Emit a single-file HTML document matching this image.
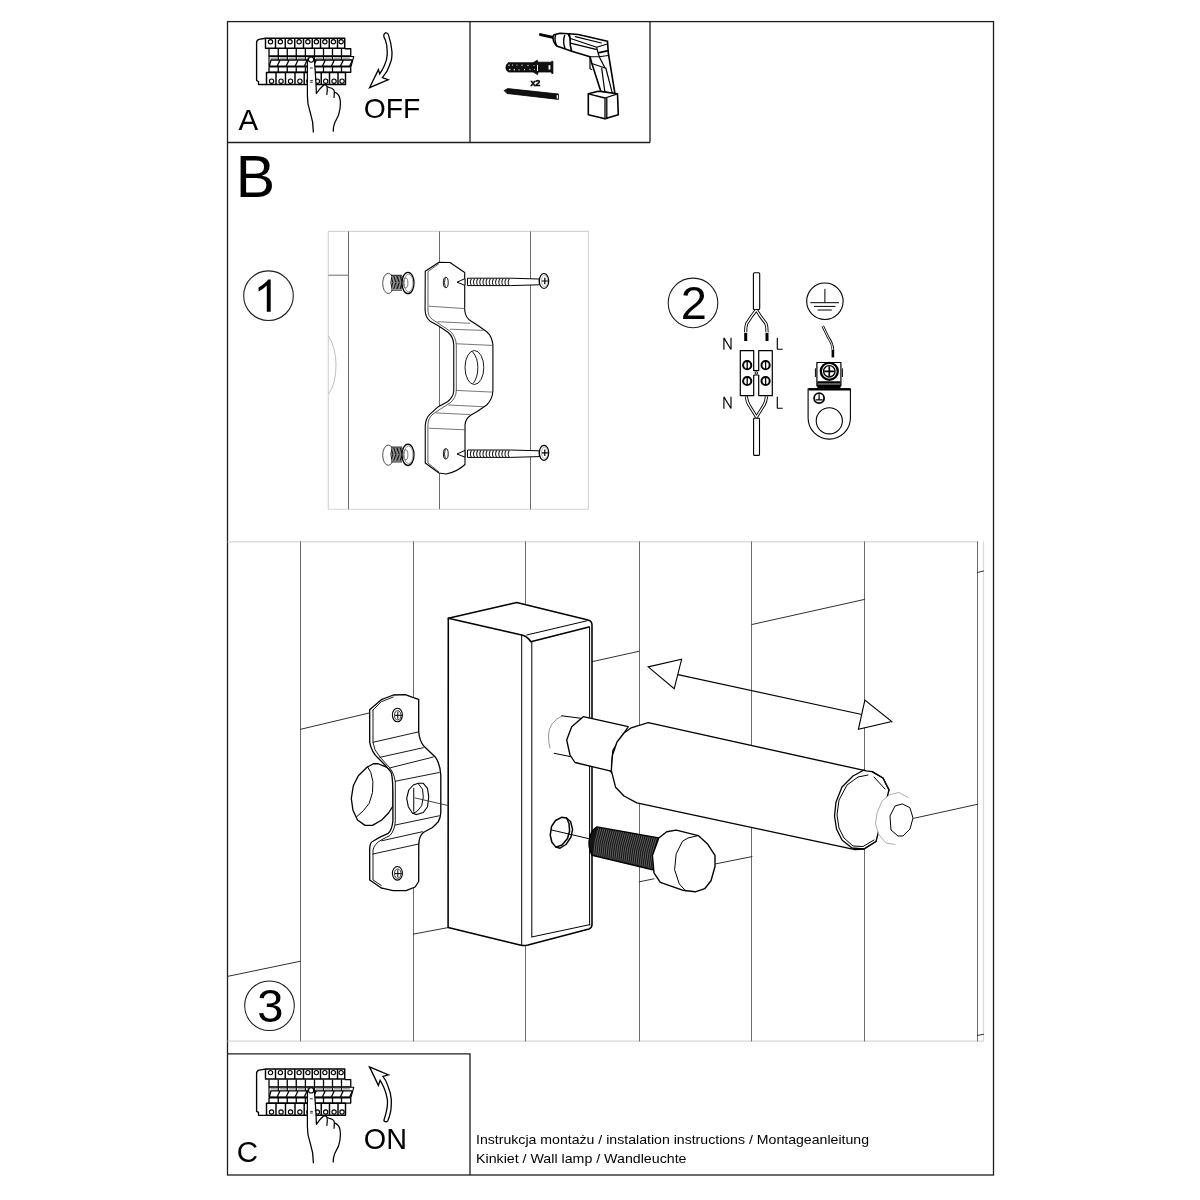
<!DOCTYPE html>
<html><head><meta charset="utf-8">
<style>
html,body{margin:0;padding:0;background:#fff;width:1200px;height:1200px;overflow:hidden}
svg{position:absolute;left:0;top:0;display:block;will-change:transform}
text{font-family:"Liberation Sans",sans-serif;fill:#000}
</style></head>
<body>
<svg width="1200" height="1200" viewBox="0 0 1200 1200">
<!-- FRAME -->
<g fill="none" stroke="#1e1e1e" stroke-width="1.3">
<rect x="227.5" y="21.6" width="766" height="1153.4"/>
<path d="M227.5 142.5H650M470 21.6V142.5M650 21.6V142.5M227.5 1053.8H470V1175"/>
</g>
<!-- PANELS -->
<g id="panel" stroke="#000" fill="none" stroke-linejoin="round">
<path fill="#fff" stroke-width="1.35" d="M265.5 38.25L259 39.3Q256.6 40 256.6 42.5V80.5L258.5 81.6V84.5H266.5"/>
<path fill="#fff" stroke-width="1.45" d="M265.5 48.25V38.25H344.75V48.25H265.5ZM275.5 38.25V48.25M285.25 38.25V48.25M294.75 38.25V48.25M303.5 38.25V48.25M312.25 38.25V48.25M320.5 38.25V48.25M329.25 38.25V48.25M337.5 38.25V48.25"/>
<g stroke-width="1.15"><circle cx="270.50" cy="41.8" r="2.15"/><circle cx="280.38" cy="41.8" r="2.15"/><circle cx="290.00" cy="41.8" r="2.15"/><circle cx="299.12" cy="41.8" r="2.15"/><circle cx="307.88" cy="41.8" r="2.15"/><circle cx="316.38" cy="41.8" r="2.15"/><circle cx="324.88" cy="41.8" r="2.15"/><circle cx="333.38" cy="41.8" r="2.15"/><circle cx="341.12" cy="41.8" r="2.15"/></g>
<path stroke-width="1.3" d="M269 48.75V56H350.75V48.75H344.75M278.25 48.75V56M287.25 48.75V56M296.25 48.75V56M305.4 48.75V56M314.5 48.75V56M323.5 48.75V56M332.5 48.75V56M341.5 48.75V56"/>
<path fill="#fff" stroke-width="1.1" d="M269 56.5H353.75L351 66.5H269Z"/>
<path stroke="#888" stroke-width="1.3" d="M270.40 58.1H277.25M279.65 58.1H286.25M288.65 58.1H295.25M297.65 58.1H304.40M306.80 58.1H313.50M315.90 58.1H322.50M324.90 58.1H331.50M333.90 58.1H340.50M342.90 58.1H349.75M352.15 58.1H352.00"/>
<path stroke-width="1.3" d="M269.3 66L271 60H352.5M277.25 66L280.05 60M286.25 66L289.05 60M295.25 66L298.05 60M304.4 66L307.2 60M313.5 66L316.3 60M322.5 66L325.3 60M331.5 66L334.3 60M340.5 66L343.3 60M349.75 66L352.55 60M271 60H352.5M278.25 56.5V60M287.25 56.5V60M296.25 56.5V60M305.4 56.5V60M314.5 56.5V60M323.5 56.5V60M332.5 56.5V60M341.5 56.5V60"/>
<path stroke-width="2" d="M269 66.6H351"/>
<path stroke-width="1.3" d="M269 67.2V72.25H350.75V67.2M278.25 67.2V72.25M287.25 67.2V72.25M296.25 67.2V72.25M305.4 67.2V72.25M314.5 67.2V72.25M323.5 67.2V72.25M332.5 67.2V72.25M341.5 67.2V72.25"/>
<path fill="#fff" stroke-width="1.45" d="M266.5 72.5H345.5V84.5H266.5ZM276 72.5V84.5M285.5 72.5V84.5M295 72.5V84.5M304.2 72.5V84.5M313 72.5V84.5M321.25 72.5V84.5M329.5 72.5V84.5M338 72.5V84.5"/>
<g stroke-width="1.15"><circle cx="271.55" cy="81.2" r="2.15"/><circle cx="281.05" cy="81.2" r="2.15"/><circle cx="290.55" cy="81.2" r="2.15"/><circle cx="299.90" cy="81.2" r="2.15"/><circle cx="308.90" cy="81.2" r="2.15"/><circle cx="317.43" cy="81.2" r="2.15"/><circle cx="325.68" cy="81.2" r="2.15"/><circle cx="334.05" cy="81.2" r="2.15"/><circle cx="342.05" cy="81.2" r="2.15"/></g>
<path fill="#fff" stroke-width="1.25" d="M313.4 132.5Q313.5 122 310 111.5Q307.3 104 307.4 96V62Q307.8 57.5 311.1 57Q314.3 57.5 314.5 62L315.3 72.5L316 83.75L316.4 93.5L319.75 89L323.5 85.25Q325.8 84.3 327 86.5Q328.5 87.5 331.75 88.25Q334.4 89.5 334.4 92Q337 93 338.5 95Q340.3 97.5 340.4 103.5Q340.5 109 338.5 115.3L334.75 122.75Q333 127 333.25 131.75"/>
<path stroke-width="1.2" d="M327 86.5Q327.8 90 326.8 95M334.4 92L334 98"/>
<circle cx="311.1" cy="59.6" r="2.6" fill="#fff" stroke-width="1.1"/>
<path stroke-width="0.8" d="M309.8 68H312.8M310.2 80.6H312.8M310.2 82.2H312.8"/>
</g>

<use href="#panel" transform="translate(0 1030.8)"/>
<g id="drill" stroke="#000" fill="none" stroke-linejoin="round" stroke-linecap="round">
<!-- anchor -->
<path fill="#111" stroke-width="0.8" d="M508.8 62.75H533.1L537.2 60.2L538 62.2H551.7V61.2L552.9 61.4V73.6L551.7 73.4V72H538L537.7 74.6L533.1 72H508.8Q505.6 70.5 505.9 67.4Q505.9 64 508.8 62.75Z"/>
<g fill="#fff" stroke="none">
<rect x="548.5" y="65.2" width="1.9" height="4.3"/>
<rect x="537" y="64.8" width="1" height="6.2"/>
<circle cx="509" cy="65.3" r="0.7"/><circle cx="509.8" cy="69.6" r="0.8"/>
<circle cx="512.5" cy="65" r="0.6"/><circle cx="514.3" cy="69.8" r="0.7"/>
<circle cx="517" cy="65" r="0.6"/><circle cx="519" cy="69.8" r="0.6"/>
<circle cx="522" cy="65.2" r="0.6"/><circle cx="524.5" cy="69.7" r="0.6"/>
<circle cx="528" cy="65.4" r="0.6"/><circle cx="530" cy="69.6" r="0.6"/>
<circle cx="534" cy="65.6" r="0.5"/><circle cx="534.3" cy="69.6" r="0.5"/>
</g>
<!-- screw -->
<path fill="#111" stroke-width="0.8" d="M504.4 90.4L507.75 88.6L558.4 94V99.4L507.2 93.5Z"/>
<path fill="#fff" stroke="none" d="M556.7 95L558 95.2V98.8L556.7 98.6Z"/>
<!-- drill bit -->
<path stroke-width="3" d="M540.5 34.6L553 37.4"/>
<!-- chuck -->
<path fill="#fff" stroke-width="1.6" d="M554.2 34.7L560 33.2L568.3 33.8Q571.5 40 571.7 51.3L562.5 48L556.7 45.9Q553.5 43 552.9 38Q553 35.8 554.2 34.7Z"/>
<path stroke-width="1.4" d="M555.5 35.6Q554 40 556.7 45.6M564.6 35.5Q562.5 42 565 48.4"/>
<!-- body -->
<path fill="#fff" stroke-width="1.6" d="M568.3 33.8L578.3 34.5L607.5 41.3L608.3 53L615 93.8L600.8 91.3L591.7 63L590 56.75L571.7 51.3Q569.5 45 570.2 38Q570 35 568.3 33.8Z"/>
<path stroke-width="1.2" d="M575.3 36.7L601.3 43M571.3 38.7L596.7 47.3L607.3 44M571.3 43.3L596 49.3M596.7 47.3L598 52.7L599.3 56.75M598 52.7L607.3 50.7M599.2 56.75L590 56.75M599.2 53L608.3 50.9M599.2 56.75L608.3 55.5M592.5 63.8L605 68M599.2 56.75L605 68M601.7 68.4L605 93M605.8 68L612.5 93.8M590 56.75V68.8L591.7 69.5"/>
<!-- battery -->
<path fill="#fff" stroke-width="1.6" d="M588.3 93.8L598.3 91.3L617.5 93.8L618.3 114.7L605 118.8L588.3 114.7Z"/>
<path stroke-width="1.3" d="M588.3 93.8L605 98L617.5 93.8M605 98V118.8M606.8 97.6V118.4"/>
</g>
<g stroke="#000" stroke-width="1.3" fill="#fff" stroke-linejoin="miter">
<path d="M384 34.4Q385.5 32.5 386.1 32.8Q388 33 388.3 34.4Q391 42 392 52Q392 60 390.4 62.7Q389 67 386.7 71.7L382.4 77.6L388.3 79.7L369.6 87.7L378.4 69.6L379.7 73.9Q383 69 384.5 65.3Q387 60 387.2 54.7Q387.3 50 386.7 45.1Q385.8 40 384 37.1Q383.6 35.5 384 34.4Z"/>
<path d="M369.5 1066.9L388.5 1074.8L382.9 1076.4Q386 1080 387.9 1085.9Q391 1093 391.3 1099.9Q391.5 1106 390.7 1111.1Q389.5 1117 387.9 1120.6Q387 1122 386.3 1121.7Q383.6 1121.5 384 1120Q386 1114 386.8 1109.4Q387.8 1104 387.4 1099.9Q386.5 1094 384.6 1089.3Q382.5 1084 380.1 1080.3L378.4 1085.4Z"/>
</g>
<text x="530.6" y="85.9" font-size="9.2" font-weight="bold" letter-spacing="-0.4" stroke="#000" stroke-width="0.45">x2</text>
<!-- SECTION 1 -->
<g fill="none">
<path stroke="#d4d4d4" stroke-width="1.1" d="M328.3 231.4H588.4V509.3H328.3Z"/>
<path stroke="#6a6a6a" stroke-width="1" d="M348.5 231.4V509.3M439.5 231.4V509.3M530.5 231.4V509.3M328.3 275.2H348.5"/>
<path stroke="#b8b8b8" stroke-width="0.9" d="M328.5 336Q336 348 336 365Q336 384 328.5 394"/>
</g>
<g stroke="#000" fill="#fff" stroke-linejoin="round">
<path stroke-width="1.1" d="M425.25 271.25L439 262.3L450 262.5L464.7 272.5V310.2Q465.5 318 471.3 321.25L478.3 325.8L486.7 331.7Q492 336 492.9 345V390.8Q492.6 399 486.7 405L476.7 411.7L471 415Q465.3 419 465 425V464.5Q457 472 446 474L439 473L425.25 463V425.3Q426 418 430 414.2L438.3 406.7L447.5 401.7Q453.5 397 453.75 390.8V345Q453.5 337 448.3 332.5L438.3 325.8L430.2 321.25Q425.3 317 425.1 310.2Z"/>
<path fill="none" stroke-width="0.8" stroke="#333" d="M439 263.6L428 271.5V310.2Q427.8 316 432.5 319.5L441 325L450.5 331.5Q456 337 456.3 345V390.8Q456 398 450 403L440.5 409L433 414Q428 418 427.9 425.3V463L439 472"/>
<path fill="none" stroke-width="0.8" stroke="#555" d="M428.6 306.2L465 308.6M437.5 321.7L470 323.3M450 329.2L483.3 330.4M455.8 343.75L492.5 345.4M455.8 390.4L492.5 392.1M448.3 405L483.3 406.7M435.8 412.9L470 414.6M428.6 428.2L465 429.8"/>
<ellipse cx="474.4" cy="367.5" rx="9.4" ry="17" stroke-width="0.9"/>
<path fill="none" stroke-width="0.9" d="M472.5 351.7Q478 358 477.8 367.5Q478 377 473.3 383.3"/>
<ellipse cx="445.8" cy="282.5" rx="2.4" ry="5.2" stroke-width="1" stroke="#111"/><path fill="none" stroke="#111" stroke-width="0.9" d="M445.3 277.7Q443.6 282.5 445.3 287.3"/>
<ellipse cx="445.8" cy="453.8" rx="2.4" ry="5.2" stroke-width="1" stroke="#111"/><path fill="none" stroke="#111" stroke-width="0.9" d="M445.3 449.0Q443.6 453.8 445.3 458.6"/>
</g>
<g stroke="#000" fill="#fff">
<path stroke-width="1" d="M457 282.2L465 278.6V285.4Z"/>
<path stroke-width="1" d="M467.5 278.2H510.5L539.3 279.0V284.8L510.5 285.6H467.5Z"/>
<path fill="none" stroke-width="1.05" stroke="#222" d="M471.5 278.6Q469.2 282.2 471.5 285.5M474.6 278.6Q472.3 282.2 474.6 285.5M477.8 278.6Q475.5 282.2 477.8 285.5M480.9 278.6Q478.6 282.2 480.9 285.5M484.1 278.6Q481.8 282.2 484.1 285.5M487.2 278.6Q484.9 282.2 487.2 285.5M490.4 278.6Q488.1 282.2 490.4 285.5M493.6 278.6Q491.2 282.2 493.6 285.5M496.7 278.6Q494.4 282.2 496.7 285.5M499.9 278.6Q497.6 282.2 499.9 285.5M503.0 278.6Q500.7 282.2 503.0 285.5M506.1 278.6Q503.8 282.2 506.1 285.5M509.3 278.6Q507.0 282.2 509.3 285.5"/>
<ellipse cx="544" cy="281.0" rx="4.7" ry="7.5" stroke-width="1.2"/>
<ellipse cx="544.6" cy="281.0" rx="3.1" ry="5.7" stroke-width="0.6" stroke="#888"/>
<path fill="none" stroke-width="1.2" d="M544.8 277.8V284.2M541.8 281.0H547.8"/>
</g>
<g stroke="#000" fill="#fff">
<ellipse cx="388.3" cy="283.4" rx="5.6" ry="10.1" stroke="#444" stroke-width="0.95"/>
<path stroke="none" fill="#fff" d="M390.5 276.0H403V290.0H390.5Z"/>
<path fill="none" stroke="#000" stroke-width="0.95" d="M391 275.3H402M391 290.1H402M392.0 275.9Q389.8 282.5 392.0 289.1M393.4 275.9Q391.2 282.5 393.4 289.1M394.9 275.9Q392.7 282.5 394.9 289.1M396.4 275.9Q394.2 282.5 396.4 289.1M397.8 275.9Q395.6 282.5 397.8 289.1M399.2 275.9Q397.1 282.5 399.2 289.1M400.7 275.9Q398.5 282.5 400.7 289.1M402.1 275.9Q399.9 282.5 402.1 289.1"/>
<ellipse cx="408" cy="283.0" rx="6" ry="10.7" stroke-width="1.3"/>
<ellipse cx="408.6" cy="283.0" rx="4.4" ry="8.8" stroke-width="0.7" stroke="#666"/>
<ellipse cx="405.6" cy="283.0" rx="2.3" ry="5" stroke-width="0.8" stroke="#555" fill="none"/>
</g><g stroke="#000" fill="#fff">
<path stroke-width="1" d="M457 454.0L465 450.4V457.2Z"/>
<path stroke-width="1" d="M467.5 450.0H510.5L539.3 450.8V456.6L510.5 457.4H467.5Z"/>
<path fill="none" stroke-width="1.05" stroke="#222" d="M471.5 450.4Q469.2 454.0 471.5 457.3M474.6 450.4Q472.3 454.0 474.6 457.3M477.8 450.4Q475.5 454.0 477.8 457.3M480.9 450.4Q478.6 454.0 480.9 457.3M484.1 450.4Q481.8 454.0 484.1 457.3M487.2 450.4Q484.9 454.0 487.2 457.3M490.4 450.4Q488.1 454.0 490.4 457.3M493.6 450.4Q491.2 454.0 493.6 457.3M496.7 450.4Q494.4 454.0 496.7 457.3M499.9 450.4Q497.6 454.0 499.9 457.3M503.0 450.4Q500.7 454.0 503.0 457.3M506.1 450.4Q503.8 454.0 506.1 457.3M509.3 450.4Q507.0 454.0 509.3 457.3"/>
<ellipse cx="544" cy="452.8" rx="4.7" ry="7.5" stroke-width="1.2"/>
<ellipse cx="544.6" cy="452.8" rx="3.1" ry="5.7" stroke-width="0.6" stroke="#888"/>
<path fill="none" stroke-width="1.2" d="M544.8 449.6V456.0M541.8 452.8H547.8"/>
</g>
<g stroke="#000" fill="#fff">
<ellipse cx="388.3" cy="455.2" rx="5.6" ry="10.1" stroke="#444" stroke-width="0.95"/>
<path stroke="none" fill="#fff" d="M390.5 447.8H403V461.8H390.5Z"/>
<path fill="none" stroke="#000" stroke-width="0.95" d="M391 447.1H402M391 461.9H402M392.0 447.7Q389.8 454.3 392.0 460.9M393.4 447.7Q391.2 454.3 393.4 460.9M394.9 447.7Q392.7 454.3 394.9 460.9M396.4 447.7Q394.2 454.3 396.4 460.9M397.8 447.7Q395.6 454.3 397.8 460.9M399.2 447.7Q397.1 454.3 399.2 460.9M400.7 447.7Q398.5 454.3 400.7 460.9M402.1 447.7Q399.9 454.3 402.1 460.9"/>
<ellipse cx="408" cy="454.8" rx="6" ry="10.7" stroke-width="1.3"/>
<ellipse cx="408.6" cy="454.8" rx="4.4" ry="8.8" stroke-width="0.7" stroke="#666"/>
<ellipse cx="405.6" cy="454.8" rx="2.3" ry="5" stroke-width="0.8" stroke="#555" fill="none"/>
</g>
<!-- SECTION 2 -->
<g stroke="#000" fill="none" stroke-linejoin="round">
<rect x="753.4" y="272.7" width="6.3" height="36.8" rx="1" stroke-width="1.1"/>
<rect x="753.6" y="418.1" width="5.9" height="37.3" rx="1" stroke-width="1.1"/>
<path stroke-width="3.2" d="M756.3 310L752 315.7L746.7 323.7Q745.5 327 745.7 332.3M756.5 310L760 315.7L766 323.7Q767.2 327 767 332.3M746.3 396.3Q747 402 749 405L756.5 417M766.5 396.3Q766 402 764 405L756.5 417"/>
<path stroke-width="1.4" stroke="#fff" d="M756.3 310L752 315.7L746.7 323.7Q745.5 327 745.7 332.3M756.5 310L760 315.7L766 323.7Q767.2 327 767 332.3M746.3 396.3Q747 402 749 405L756.5 417M766.5 396.3Q766 402 764 405L756.5 417"/>
<path stroke-width="3" d="M745.7 333V341M767 333V341"/>
<rect x="740.3" y="350.7" width="13.4" height="45" stroke-width="1.2"/>
<rect x="758.7" y="350.7" width="13.6" height="45" stroke-width="1.2"/>
<g stroke-width="2"><circle cx="747.2" cy="365.2" r="4.1"/><circle cx="765.6" cy="365.2" r="4.1"/><circle cx="747.2" cy="381" r="4.1"/><circle cx="765.6" cy="381" r="4.1"/></g>
<path stroke-width="1.3" d="M747.2 361.6V368.8M765.6 361.6V368.8M747.2 377.4V384.6M765.6 377.4V384.6"/>
<path stroke="#fff" stroke-width="2" d="M753.5 371V375.2M759 371V375.2"/>
<path stroke-width="1.1" d="M753.6 370.4L754.5 370.6H758L758.8 370.4M753.6 375.8Q754 375 755 375H758Q758.8 375 758.8 375.8"/>
<circle cx="756.4" cy="373" r="1.2" stroke-width="0.9"/>
<circle cx="824.9" cy="301.25" r="18.2" stroke-width="1.1"/>
<path stroke-width="1" d="M824.9 288.9V302.7M810.3 302.7H839M814 306.4H835.5M817.6 310H831.8"/>
<path stroke-width="2.6" d="M822.7 326L828 337Q832.9 344 832.9 350"/>
<path stroke-width="1" stroke="#fff" d="M822.7 326L828 337Q832.9 344 832.9 350"/>
<path stroke-width="2.6" d="M832.9 350V357.4"/>
<path stroke-width="1.1" fill="#fff" d="M808.1 388.75H850.4V418A21.1 21.1 0 0 1 808.1 418Z"/>
<path stroke-width="2.2" d="M808.5 389.4H850"/>
<circle cx="829.3" cy="420.8" r="13.1" stroke-width="1.1"/>
<circle cx="819.1" cy="398.2" r="5" stroke-width="1.8"/>
<path stroke-width="1.2" d="M819.1 394.3V399.6M815.6 399.9H822.6"/>
<rect x="816.9" y="362.5" width="24" height="23.3" stroke-width="1.2" fill="#fff"/>
<path stroke-width="1" d="M815.4 368.3V377M842.4 368.3V377"/>
<rect x="817.6" y="381.5" width="22.6" height="6.5" fill="#000" stroke-width="0.5"/>
<path stroke="#fff" stroke-width="0.7" d="M818 384H840"/>
<circle cx="829.3" cy="371.3" r="8.5" stroke-width="2.3" fill="#fff"/>
<circle cx="829.3" cy="371.3" r="5.7" stroke-width="1.4"/>
<path stroke-width="1.7" d="M829.3 366.3V376.3M824.3 371.3H834.3"/>
</g>
<g fill="#000" stroke="#000" stroke-width="1.2" stroke-linejoin="miter" stroke-linecap="butt">
<path fill="none" stroke-linejoin="bevel" stroke-width="1.15" d="M723.9 349.7V337.9L731 349.5V337.7M777.3 337.7V349.2H782.7M723.9 408.7V396.9L731 408.5V396.7M777.3 396.7V408.2H782.7"/>
</g>
<!-- SECTION 3 -->
<g fill="none" stroke-linejoin="round" stroke-linecap="round">
<!-- wall -->
<path stroke="#d8d8d8" stroke-width="1.2" d="M228 541.8H978M228 1041.2H983M983.5 541.8V1041"/>
<g stroke="#6a6a6a" stroke-width="1">
<path d="M300.5 541.8V1041M413.5 541.8V1041M525.5 541.8V1041M639.5 541.8V1041M751.5 541.8V1041M864.5 541.8V1041M977.5 541.8V1041"/>
</g>
<g stroke="#303030" stroke-width="1">
<path d="M228 976.3L300.6 961.2M300.6 729.3L370 712.8M413.4 934.1L448.1 927.6M592 661.7L639.3 651.2M752 624.5L864.6 599.4M639.3 881.8L654 878.8M716 863.8L752 856.6M913.8 818.3L977.5 804.3M977.5 572.5L983.5 571M977.5 1035.4L983.5 1034.3"/>
</g>
<!-- box -->

<g stroke="#000" stroke-width="1.55" fill="#fff">
<path d="M448.3 618.3L516.7 602.5L588 620Q592 621 592 625V924.6Q592 928 589 929L528 945Q523.5 946 521 945.2L448.1 927.6Z"/>
<path fill="none" d="M448.3 618.3L521.7 635Q527 636 530.8 641.7L589 627"/>
<path fill="none" stroke-width="1" d="M521.7 635V945M531.8 641.7V937M589.6 627V925M526.7 635L587 620.8M532.2 936.9L590 924.6"/>
</g>
<!-- knob + bracket -->
<g stroke="#000" stroke-width="1.3" fill="#fff">
<path d="M378.3 763.75L373.3 763.75L366.7 767.5L358.3 775.8L353.3 785.8L351.3 798.3L352.9 810L357.5 820L365 825.4L372.5 825.4L381.7 820L388.3 813.3L393 806L393 770Z"/>
<path fill="none" stroke-width="1" d="M367.5 766.7L370.8 772.5L372.9 781.7L372.5 792.5L369.2 803.3L363.3 810.8L356.7 816.7"/>
<path stroke-width="1.3" d="M369.7 709.7L381.3 699.7L393.3 695L405.3 694.7L412.7 697.3L418.7 699.3L418.7 731.7Q419.5 741 424 746.3L435 756.7Q440 763 440.8 775L440.8 812.5Q440.5 818 438.3 821.7L432.5 827.5L423.3 832.5Q419 836 418.75 845L418.7 881.5L415.1 887L406 890.7L393.1 890.7L381.3 888L369.7 880L369.7 848Q370 842 373.3 841L380 837.1L388.3 833.3Q392 830 392.9 820.8L392.9 791.7Q392.7 775 390.8 771.7L385 765L378.3 758.3Q371.5 752 369.7 742.3Z"/>
<path fill="none" stroke-width="0.9" d="M372.7 710.3L381.3 701.7L393.3 697M373 710.3V742.3Q373.5 750 380 757L386 763.7Q394 771 395.3 782V820.8Q395 830 390 835.5L382 839.5Q374 844 373 850V880L381.3 885.5"/>
<g fill="none" stroke-width="0.9">
<path d="M373 742.3L418 732M380 757.3L423.3 747.7M389.5 768L433.4 757M395.3 781.25L439.2 772.5M395.3 825L439.2 815.8M381.7 840.8L422.5 831.7M373 854L418.75 844"/>
</g>
<ellipse cx="397.4" cy="715" rx="5" ry="6.8" stroke-width="1.1"/>
<ellipse cx="397.8" cy="715.3" rx="3.3" ry="4.6" stroke-width="0.8"/>
<path fill="none" stroke-width="1" d="M397.8 712.2V718.4M395.3 715.3H400.3"/>
<ellipse cx="397.4" cy="873.3" rx="5" ry="6.8" stroke-width="1.1"/>
<ellipse cx="397.8" cy="873.6" rx="3.3" ry="4.6" stroke-width="0.8"/>
<path fill="none" stroke-width="1" d="M397.8 870.5V876.7M395.3 873.6H400.3"/>
<path stroke-width="1.1" d="M418.3 783.3L423.3 783.3L427.5 788.3L428.75 796.7L427.5 806.7L423.3 812.5L416.7 814.6L412.5 813.3L408.3 806.7L406.7 798.3L408.75 790L413.3 785Z"/>
<path fill="none" stroke-width="1" d="M418.3 783.75L422.5 789.2L423.3 796.7L421.7 805.8L416.7 811.7L412.5 813.3M413.75 788.3V811.25"/>
</g>
<path fill="none" stroke="#303030" stroke-width="0.9" d="M415 797.9L448.3 805.6"/>
<!-- neck + collar + cylinder -->
<g stroke="#000" stroke-width="1.35" fill="#fff">
<path fill="#fff" stroke="none" d="M553 716L582 717L575 763L552 753Z"/>
<path fill="none" stroke="#777" stroke-width="0.8" d="M562 716Q549 722 548.5 735Q548.5 744 550 748"/>
<path fill="none" stroke-width="1" d="M561.7 715.8L581 718.3M554.2 753.3L575 757.5"/>
<path d="M583.3 716.7L628.3 726.7L613 750L611.5 766L614 775L610 770.8L575 762.5L570 755L566.7 740L571.7 726.7Z"/>
<path d="M648.2 722.7L866.3 770.9L872 771.7L883 778L889 790L876 841.5L864 849L855 849.7L636.8 802.9L624 796L615.6 787.3L611.3 770.3L612.5 755L617 742L624 733L631.2 727.8Z"/>
<path fill="none" stroke-width="1.3" d="M872 771.5L883 778L889 790M864 770L853 776L842 787L836 802L834.5 816L836.5 829L842 840L852 848L864 849L876 841.5"/>
<path fill="none" stroke-width="1" d="M874 777L885 789M868 775L858 777L847 785L839 800L837 815L839 828L844 838L853 846L863 846.5L874 840"/>
</g>
<g fill="#fff">
<path stroke="#999" stroke-width="0.8" d="M908 797.5L899 792.5L890 794.5L882 801L877 813L875.5 824L879 835L886 843L895 844.5"/>
<path stroke="#000" stroke-width="1" d="M902 804L895 806L890 816L891 830L898 836L903 836L910 829L913 818L910 808Z"/>
</g>
<!-- bolt -->
<g stroke="#000" stroke-width="1.4">
<path fill="#fff" stroke-width="1.4" d="M566.5 818L570.6 821.5L572.6 829.5L571 837L566 844.5L560 848.2L555.9 847.1"/>
<path fill="#fff" stroke-width="1.5" d="M550.25 835.1L551.5 826.5L555.5 820.5L561.5 817.3L566.5 818L569 823.5L569.6 831L567.5 838.5L562 845L555.9 847.1L551.8 842Z"/>
<path fill="none" stroke="#000" stroke-width="1" d="M551.6 830L589.4 838.8"/>
<path fill="#141414" d="M597 826.9L658.8 838L652.4 869.7L592.2 855.4Q588.5 849 589.1 841.2Q590 831 597 826.9Z"/><path fill="none" stroke="#bbb" stroke-width="0.45" d="M598.6 828.3Q594.0 841.4 593.8 854.4M600.7 828.7Q596.1 841.8 595.8 854.9M602.8 829.0Q598.1 842.2 597.8 855.4M604.8 829.4Q600.1 842.6 599.8 855.9M606.9 829.8Q602.1 843.1 601.8 856.3M608.9 830.1Q604.2 843.5 603.8 856.8M611.0 830.5Q606.2 843.9 605.8 857.3M613.1 830.9Q608.2 844.3 607.9 857.8M615.1 831.2Q610.3 844.7 609.9 858.3M617.2 831.6Q612.3 845.2 611.9 858.7M619.2 832.0Q614.4 845.6 613.9 859.2M621.3 832.4Q616.4 846.0 615.9 859.7M623.4 832.7Q618.4 846.4 617.9 860.2M625.4 833.1Q620.4 846.9 619.9 860.6M627.5 833.5Q622.5 847.3 621.9 861.1M629.5 833.8Q624.5 847.7 623.9 861.6M631.6 834.2Q626.6 848.1 625.9 862.1M633.6 834.6Q628.6 848.6 627.9 862.5M635.7 834.9Q630.6 849.0 629.9 863.0M637.8 835.3Q632.6 849.4 631.9 863.5M639.8 835.7Q634.7 849.8 633.9 864.0M641.9 836.1Q636.7 850.3 635.9 864.4M643.9 836.4Q638.7 850.7 638.0 864.9M646.0 836.8Q640.8 851.1 640.0 865.4M648.1 837.2Q642.8 851.5 642.0 865.9M650.1 837.5Q644.9 851.9 644.0 866.4M652.2 837.9Q646.9 852.4 646.0 866.8M654.2 838.3Q648.9 852.8 648.0 867.3M656.3 838.6Q650.9 853.2 650.0 867.8M658.4 839.0Q653.0 853.6 652.0 868.3"/>
<path fill="#fff" d="M658.8 838L666.7 831.7L676.2 830.1L698.3 835.6L707.8 844.3L715 855.4L715 866.5L711 880.8L704.7 888.7L695.2 891.8L682.5 890.2L660.3 882.3L654 872.8L652.4 855.4Z"/>
<path fill="none" stroke-width="1" d="M698.3 835.6L688 838L682.5 841.2L676.2 853.8L674.6 869.7L679.3 883.9L685.7 891"/>
</g>
<!-- arrow -->
<g stroke="#000" stroke-width="1.1" fill="#fff" stroke-linejoin="miter">
<path fill="none" d="M677.9 674.6L860.7 714.2"/>
<path d="M648.2 666.9L681.6 659.3L674.2 688.7Z"/>
<path d="M864.9 700.1L891.8 721.6L858.4 729.3Z"/>
</g>
</g>
<!-- TEXT -->
<text x="238.5" y="129.75" font-size="29.5">A</text>
<text x="363.7" y="118" font-size="28.3">OFF</text>
<text x="235.7" y="196.75" font-size="59">B</text>
<text x="236.75" y="1162.4" font-size="29.5">C</text>
<text x="363.75" y="1149" font-size="28.8">ON</text>
<text x="476" y="1143.5" font-size="13.5" textLength="393" lengthAdjust="spacingAndGlyphs">Instrukcja montażu / instalation instructions / Montageanleitung</text>
<text x="476" y="1162.7" font-size="13.5" textLength="210.5" lengthAdjust="spacingAndGlyphs">Kinkiet / Wall lamp / Wandleuchte</text>
<!-- CIRCLED NUMBERS -->
<g fill="none" stroke="#1e1e1e" stroke-width="1.1">
<circle cx="268.5" cy="295.7" r="24.8"/>
<circle cx="693" cy="302.9" r="24.8"/>
<circle cx="269.5" cy="1005.75" r="24.8"/>
</g>
<path fill="#000" d="M266.8 311.7V285.6Q263.5 289 258.6 291.6V287.4Q262 285.8 264.8 283Q267.2 281 268.2 279.4H270.7V311.7Z"/>
<text x="680.75" y="319" font-size="47">2</text>
<text x="257.2" y="1021.7" font-size="47">3</text>
</svg>
</body></html>
